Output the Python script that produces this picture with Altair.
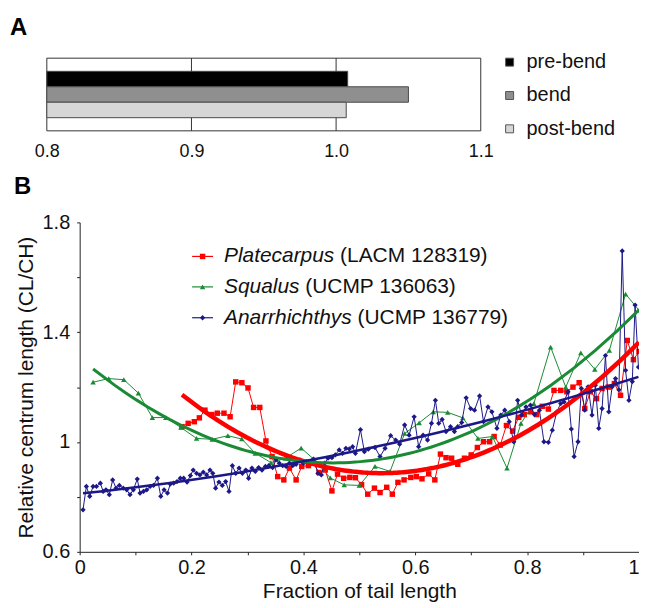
import altair as alt
import pandas as pd

FONT = "Liberation Sans"

# ---------------- Panel A data ----------------
phase = ["pre-bend", "bend", "post-bend"]
phase_value = [1.008, 1.050, 1.007]
phase_color = ["#000000", "#8f8f8f", "#d6d6d6"]
a_ticks = [0.8, 0.9, 1.0, 1.1]
a_grid = [0.9, 1.0]

# ---------------- Panel B data ----------------
plat_x = [0.183, 0.194, 0.205, 0.214, 0.224, 0.236, 0.246, 0.258, 0.269, 0.279,
          0.290, 0.301, 0.311, 0.322, 0.333, 0.344, 0.354, 0.365, 0.375, 0.387,
          0.397, 0.409, 0.418, 0.428, 0.439, 0.451, 0.461, 0.472, 0.483, 0.493,
          0.504, 0.515, 0.527, 0.537, 0.549, 0.559, 0.569, 0.580, 0.592, 0.602,
          0.612, 0.624, 0.635, 0.645, 0.655, 0.665, 0.676, 0.688, 0.700, 0.711,
          0.722, 0.733, 0.741, 0.752, 0.763, 0.774, 0.785, 0.795, 0.806, 0.817,
          0.827, 0.838, 0.848, 0.860, 0.871, 0.882, 0.893, 0.903, 0.913, 0.924,
          0.934, 0.945, 0.956, 0.967, 0.979, 0.990, 1.000]
plat_y = [1.056, 1.068, 1.074, 1.088, 1.116, 1.100, 1.105, 1.105, 1.092, 1.219,
          1.216, 1.197, 1.126, 1.126, 1.004, 0.947, 0.874, 0.862, 0.905, 0.862,
          0.911, 0.914, 0.923, 0.889, 0.898, 0.822, 0.883, 0.868, 0.871, 0.870,
          0.845, 0.810, 0.832, 0.816, 0.835, 0.810, 0.853, 0.862, 0.871, 0.874,
          0.866, 0.884, 0.862, 0.956, 0.943, 0.941, 0.919, 0.941, 0.953, 0.980,
          1.001, 1.001, 1.020, 0.989, 1.060, 1.040, 1.090, 1.100, 1.110, 1.100,
          1.130, 1.120, 1.188, 1.188, 1.183, 1.200, 1.216, 1.122, 1.183, 1.158,
          1.195, 1.200, 1.213, 1.170, 1.370, 1.300, 1.330]

squa_x = [0.024, 0.052, 0.079, 0.105, 0.130, 0.154, 0.181, 0.209, 0.237, 0.265,
          0.290, 0.314, 0.342, 0.368, 0.396, 0.420, 0.448, 0.473, 0.500, 0.528,
          0.555, 0.581, 0.607, 0.632, 0.658, 0.685, 0.712, 0.738, 0.764, 0.789,
          0.812, 0.842, 0.869, 0.896, 0.921, 0.947, 0.976, 1.000]
squa_y = [1.218, 1.231, 1.227, 1.178, 1.089, 1.089, 1.053, 1.013, 1.010, 1.023,
          1.011, 0.959, 0.925, 0.941, 0.978, 0.935, 0.869, 0.844, 0.842, 0.911,
          0.893, 1.031, 1.070, 1.110, 1.108, 1.088, 1.013, 1.020, 0.905, 1.068,
          1.140, 1.346, 1.200, 1.325, 1.265, 1.334, 1.539, 1.480]

anar_x = [0.006, 0.012, 0.018, 0.024, 0.030, 0.037, 0.042, 0.047, 0.053, 0.059,
          0.065, 0.071, 0.078, 0.084, 0.090, 0.096, 0.103, 0.108, 0.114, 0.120,
          0.126, 0.132, 0.139, 0.145, 0.151, 0.157, 0.162, 0.168, 0.174, 0.180,
          0.186, 0.192, 0.198, 0.203, 0.209, 0.215, 0.221, 0.227, 0.233, 0.238,
          0.243, 0.249, 0.255, 0.261, 0.267, 0.273, 0.279, 0.285, 0.291, 0.297,
          0.302, 0.308, 0.314, 0.320, 0.326, 0.332, 0.338, 0.345, 0.351, 0.357,
          0.363, 0.369, 0.375, 0.381, 0.387, 0.394, 0.400, 0.406, 0.412, 0.418,
          0.426, 0.432, 0.438, 0.444, 0.451, 0.457, 0.464, 0.470, 0.476, 0.482,
          0.488, 0.493, 0.502, 0.509, 0.516, 0.528, 0.537, 0.546, 0.556, 0.565,
          0.572, 0.581, 0.589, 0.598, 0.606, 0.614, 0.622, 0.629, 0.636, 0.642,
          0.648, 0.655, 0.663, 0.670, 0.676, 0.683, 0.691, 0.699, 0.706, 0.715,
          0.722, 0.730, 0.737, 0.746, 0.753, 0.760, 0.768, 0.776, 0.783, 0.790,
          0.798, 0.806, 0.813, 0.822, 0.830, 0.838, 0.845, 0.853, 0.860, 0.866,
          0.873, 0.879, 0.884, 0.891, 0.897, 0.903, 0.909, 0.916, 0.922, 0.928,
          0.934, 0.940, 0.946, 0.952, 0.958, 0.964, 0.970, 0.976, 0.982, 0.988,
          0.993, 0.999]
anar_y = [0.753, 0.838, 0.802, 0.838, 0.838, 0.850, 0.820, 0.826, 0.808, 0.862,
          0.832, 0.842, 0.832, 0.826, 0.808, 0.826, 0.865, 0.814, 0.820, 0.826,
          0.838, 0.842, 0.868, 0.802, 0.826, 0.814, 0.847, 0.850, 0.856, 0.868,
          0.868, 0.854, 0.878, 0.898, 0.886, 0.880, 0.890, 0.880, 0.898, 0.886,
          0.832, 0.854, 0.842, 0.856, 0.820, 0.914, 0.886, 0.905, 0.886, 0.898,
          0.868, 0.905, 0.893, 0.907, 0.898, 0.911, 0.914, 0.907, 0.935, 0.923,
          0.914, 0.911, 0.923, 0.914, 0.919, 0.935, 0.923, 0.929, 0.923, 0.938,
          0.886, 0.880, 0.923, 0.941, 0.943, 0.953, 0.971, 0.959, 0.977, 0.975,
          0.983, 0.959, 1.045, 0.965, 0.974, 0.980, 0.947, 0.977, 1.023, 1.007,
          0.992, 1.062, 1.025, 1.092, 0.983, 1.025, 1.007, 1.068, 1.152, 1.068,
          1.082, 1.038, 1.056, 1.038, 1.056, 1.071, 1.161, 1.122, 1.116, 1.168,
          1.074, 1.128, 1.110, 1.050, 1.098, 1.116, 1.074, 1.001, 1.152, 1.098,
          1.128, 1.134, 1.100, 1.116, 1.001, 0.999, 1.043, 1.110, 1.140, 1.146,
          1.183, 1.047, 0.947, 1.001, 1.195, 1.116, 1.201, 1.098, 1.207, 1.050,
          1.122, 1.315, 1.110, 1.201, 1.231, 1.190, 1.696, 1.261, 1.152, 1.220,
          1.499, 1.273]

series = [
    ("Platecarpus", "(LACM 128319)", "#ff0000", "square", plat_x, plat_y, 4.5, 30),
    ("Squalus", "(UCMP 136063)", "#1b8a35", "triangle-up", squa_x, squa_y, 3.0, 30),
    ("Anarrhichthys", "(UCMP 136779)", "#1c1887", "diamond", anar_x, anar_y, 2.5, 28),
]

# ---------------- Panel A ----------------
A_W, A_H = 403, 73
xa = alt.Scale(domain=[0.8, 1.1], range=[-33, 403], nice=False, zero=False)
a_axis = alt.Axis(values=a_ticks, format=".1f", domain=False, ticks=False, grid=False,
                  labelFontSize=18, labelPadding=12, labelFlush=False, title=None)

frame_a = alt.Chart(pd.DataFrame({"lo": [a_ticks[0]], "hi": [a_ticks[-1]]})).mark_rect(
    fill="white", stroke="#333333", strokeWidth=1
).encode(
    x=alt.X("lo:Q", scale=xa, axis=a_axis), x2="hi:Q",
    y=alt.value(0), y2=alt.value(A_H)
)
grid_a = alt.Chart(pd.DataFrame({"g": a_grid})).mark_rule(color="#333333", strokeWidth=1).encode(
    x=alt.X("g:Q", scale=xa, axis=a_axis), y=alt.value(0), y2=alt.value(A_H)
)
bars_a = alt.Chart(pd.DataFrame({"phase": phase, "value": phase_value})).mark_bar(
    stroke="#4a4a4a", strokeWidth=1
).encode(
    x=alt.X("value:Q", scale=xa, axis=a_axis),
    x2=alt.X2Datum(a_ticks[0]),
    y=alt.Y("phase:N", sort=phase, axis=None,
            scale=alt.Scale(paddingInner=0, paddingOuter=0.85)),
    fill=alt.Fill("phase:N", sort=phase,
                  scale=alt.Scale(domain=phase, range=phase_color),
                  legend=alt.Legend(title=None, orient="none", legendX=422, legendY=-6,
                                    symbolType="square", symbolSize=64,
                                    symbolStrokeColor="#555555", symbolStrokeWidth=1,
                                    labelFontSize=20, labelOffset=7, rowPadding=13.5,
                                    padding=0))
)
panel_a = alt.layer(frame_a, grid_a, bars_a).properties(
    width=A_W, height=A_H,
    title=alt.TitleParams("A", anchor="start", frame="group", dx=-70, offset=18,
                          fontSize=24, fontWeight="bold")
)

# ---------------- Panel B ----------------
B_W, B_H = 562, 331
xb = alt.Scale(domain=[0, 1], nice=False)
yb = alt.Scale(domain=[0.6, 1.8], nice=False)
xb_axis = alt.Axis(values=[i / 10 for i in range(11)],
                   labelExpr="round(datum.value*10) % 2 == 0 ? format(datum.value, '~g') : ''",
                   labelAlign={"condition": {"test": "datum.value >= 1", "value": "right"},
                               "value": "center"},
                   tickSize=3, labelFontSize=20, labelPadding=3, labelFlush=False,
                   labelOverlap=False, grid=False, title="Fraction of tail length",
                   titleFontSize=21, titleFontWeight="normal", titlePadding=3)
yb_axis = alt.Axis(values=[0.6, 0.8, 1.0, 1.2, 1.4, 1.6, 1.8],
                   labelExpr="round(datum.value*10) % 4 == 2 ? format(datum.value, '~g') : ''",
                   tickSize=3, labelFontSize=20, labelPadding=7, labelOverlap=False,
                   grid=False, title="Relative centrum length (CL/CH)",
                   titleFontSize=21, titleFontWeight="normal", titlePadding=6)

data_layers = []
fit_layers = []
legend_layers = []
one = pd.DataFrame({"k": [0]})
leg_rows = [34.2, 64.8, 95.8]
text_x = 145
for i, (genus, spec, color, shape, xs, ys, fitw, psize) in enumerate(series):
    df = pd.DataFrame({"x": xs, "y": ys})
    base = alt.Chart(df).encode(
        x=alt.X("x:Q", scale=xb, axis=xb_axis),
        y=alt.Y("y:Q", scale=yb, axis=yb_axis),
    )
    data_layers.append(base.mark_line(color=color, strokeWidth=1))
    data_layers.append(base.mark_point(shape=shape, filled=True, color=color, size=psize, opacity=1))
    fit_layers.append(
        alt.Chart(df).transform_regression("x", "y", method="poly", order=2)
        .mark_line(color=color, strokeWidth=fitw)
        .encode(x=alt.X("x:Q", scale=xb, axis=xb_axis), y=alt.Y("y:Q", scale=yb, axis=yb_axis))
    )
    yc = leg_rows[i]
    legend_layers.append(alt.Chart(one).mark_rule(color=color, strokeWidth=1.2).encode(
        x=alt.value(113), x2=alt.value(134), y=alt.value(yc)))
    legend_layers.append(alt.Chart(one).mark_point(shape=shape, filled=True, color=color,
                                                   size=psize, opacity=1).encode(
        x=alt.value(123.5), y=alt.value(yc)))
    legend_layers.append(alt.Chart(one).mark_text(align="left", baseline="middle",
                                                  fontStyle="italic", fontSize=21,
                                                  color="#111111").encode(
        x=alt.value(text_x), y=alt.value(yc), text=alt.value(genus)))
    # width of italic genus name in Arial metrics (em) * font size + a space
    em = {"Platecarpus": 5.28, "Squalus": 3.613, "Anarrhichthys": 6.113}[genus]
    legend_layers.append(alt.Chart(one).mark_text(align="left", baseline="middle",
                                                  fontSize=21, color="#111111").encode(
        x=alt.value(text_x + em * 21 + 5.8), y=alt.value(yc), text=alt.value(spec)))

panel_b = alt.layer(*data_layers, *fit_layers, *legend_layers).properties(
    width=B_W, height=B_H,
    title=alt.TitleParams("B", anchor="start", frame="group", dx=-66, offset=14,
                          fontSize=24, fontWeight="bold")
)

chart = alt.vconcat(panel_a, panel_b, spacing=14).properties(
    padding={"left": 2, "top": 6, "right": -9, "bottom": 0}
).configure_view(stroke=None).configure_axis(
    labelFont=FONT, titleFont=FONT, labelColor="#111111", titleColor="#111111",
    domainColor="#222222", tickColor="#222222"
).configure_legend(labelFont=FONT, labelColor="#111111").configure_title(
    font=FONT, color="#000000"
).configure_text(font=FONT)

chart.save("out.html", embed_options={"renderer": "svg", "actions": False})
